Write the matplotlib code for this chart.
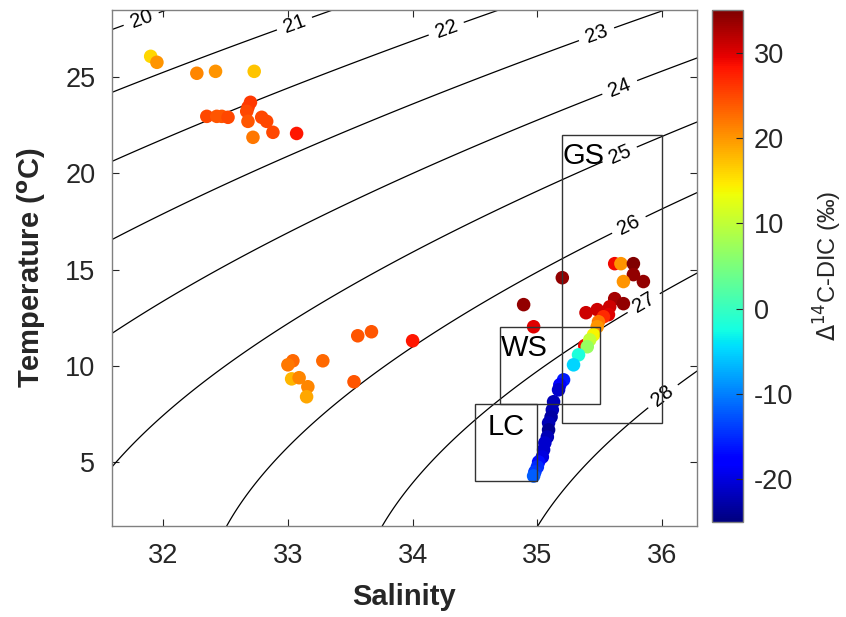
import matplotlib
matplotlib.use('Agg')
import matplotlib.pyplot as plt
import numpy as np
from matplotlib.patches import Rectangle

plt.rcParams['font.family'] = ['Liberation Sans', 'DejaVu Sans']
plt.rcParams['axes.unicode_minus'] = False

# surface samples: salinity, temperature (degC), D14C-DIC (permil)
sal_shelf = [31.90, 31.95, 32.27, 32.42, 32.73, 32.70, 32.68, 32.67, 32.35, 32.43,
             32.47, 32.52, 32.68, 32.79, 32.83, 32.88, 32.72, 33.07]
temp_shelf = [26.09, 25.78, 25.21, 25.31, 25.31, 23.70, 23.44, 23.23, 22.97, 22.97,
              22.97, 22.92, 22.71, 22.92, 22.71, 22.14, 21.88, 22.08]
d14c_shelf = [16, 20, 21, 20, 17, 26, 26, 25, 25, 24,
              24, 25, 24, 25, 25, 25, 22, 28]

# subsurface shelf / slope samples
sal_mid = [33.56, 33.67, 34.00, 33.04, 33.00, 33.28, 33.03, 33.09, 33.53, 33.16, 33.15]
temp_mid = [11.56, 11.77, 11.30, 10.26, 10.05, 10.26, 9.32, 9.38, 9.17, 8.91, 8.39]
d14c_mid = [24, 24, 28, 23, 22, 23, 18, 21, 24, 21, 19]

# offshore profile samples (Gulf Stream / Warm Slope / Labrador Current)
sal_off = [35.20, 34.89, 34.97, 35.62, 35.67, 35.77, 35.77, 35.85, 35.69, 35.62,
           35.69, 35.39, 35.48, 35.58, 35.57, 35.53, 35.38, 35.49, 35.48, 35.45,
           35.42, 35.40, 35.33, 35.29, 35.21, 35.18, 35.17, 35.13, 35.12, 35.11,
           35.09, 35.09, 35.08, 35.06, 35.05, 35.04, 35.01, 35.00, 34.98, 34.97]
temp_off = [14.58, 13.18, 12.03, 15.31, 15.31, 15.31, 14.74, 14.38, 14.38, 13.49,
            13.23, 12.76, 12.92, 13.07, 12.66, 12.55, 11.05, 12.29, 12.03, 11.61,
            11.35, 10.99, 10.57, 10.05, 9.27, 9.01, 8.75, 8.13, 7.71, 7.34,
            7.03, 6.67, 6.30, 5.99, 5.63, 5.26, 5.00, 4.74, 4.48, 4.27]
d14c_off = [34, 34, 30, 29, 20, 35, 34, 34, 20, 33,
            34, 31, 31, 31, 30, 27, 29, 22, 20, 14,
            10, 7, -2, -5, -16, -18, -21, -22, -22, -23,
            -22, -24, -22, -21, -21, -20, -17, -15, -14, -12]

# water mass boxes: name, S range, T range
box_names = ['GS', 'WS', 'LC']
box_sal = [(35.2, 36.0), (34.7, 35.5), (34.5, 35.0)]
box_temp = [(7, 22), (8, 12), (4, 8)]

sigma_levels = [20, 21, 22, 23, 24, 25, 26, 27, 28]


def sigma_t(S, T):
    # UNESCO 1981 equation of state at p = 0
    rho_w = (999.842594 + 6.793952e-2 * T - 9.095290e-3 * T**2 + 1.001685e-4 * T**3
             - 1.120083e-6 * T**4 + 6.536332e-9 * T**5)
    A = 8.24493e-1 - 4.0899e-3 * T + 7.6438e-5 * T**2 - 8.2467e-7 * T**3 + 5.3875e-9 * T**4
    B = -5.72466e-3 + 1.0227e-4 * T - 1.6546e-6 * T**2
    C = 4.8314e-4
    return rho_w + A * S + B * S**1.5 + C * S**2 - 1000.0


fig = plt.figure(figsize=(8.46, 6.17), dpi=100)
ax = fig.add_axes([0.1324, 0.1475, 0.6915, 0.8363])
cax = fig.add_axes([0.8416, 0.1540, 0.0366, 0.8298])

# density contours
sg, tg = np.meshgrid(np.linspace(31.4, 36.5, 300), np.linspace(0.5, 29.5, 300))
cs = ax.contour(sg, tg, sigma_t(sg, tg), levels=sigma_levels, colors='k', linewidths=0.9)
label_pos = [(31.82, 28.1), (33.06, 27.66), (34.28, 27.34), (35.48, 27.14), (35.66, 24.48),
             (35.66, 20.99), (35.74, 17.24), (35.86, 13.18), (36.01, 8.39)]
ax.clabel(cs, fmt='%d', fontsize=14.5, manual=label_pos, inline=True, inline_spacing=6)

sal_all = sal_shelf + sal_mid + sal_off
temp_all = temp_shelf + temp_mid + temp_off
d14c_all = d14c_shelf + d14c_mid + d14c_off
sc = ax.scatter(sal_all, temp_all, c=d14c_all, cmap='jet', vmin=-25, vmax=35,
                s=95, edgecolors='none', zorder=3)

for name, (s0, s1), (t0, t1) in zip(box_names, box_sal, box_temp):
    ax.add_patch(Rectangle((s0, t0), s1 - s0, t1 - t0, fill=False,
                           edgecolor='#333333', lw=1.0, zorder=4))
ax.text(35.205, 20.89, 'GS', fontsize=21, ha='left', va='center', zorder=5)
ax.text(34.71, 10.94, 'WS', fontsize=21, ha='left', va='center', zorder=5)
ax.text(34.605, 6.82, 'LC', fontsize=21, ha='left', va='center', zorder=5)

ax.set_xlim(31.59, 36.28)
ax.set_ylim(1.67, 28.5)
ax.set_xticks([32, 33, 34, 35, 36])
ax.set_yticks([5, 10, 15, 20, 25])
ax.tick_params(direction='in', top=True, right=True, labelsize=19.5, colors='#262626',
               length=5, width=0.8, pad=12)
for sp in ax.spines.values():
    sp.set_color('#808080')
    sp.set_linewidth(1.0)
ax.set_xlabel('Salinity', fontsize=21, fontweight='bold', color='#262626', labelpad=10)
ax.set_ylabel('Temperature ($^{\\mathbf{o}}$C)', fontsize=21, fontweight='bold',
              color='#262626', labelpad=12)

cb = fig.colorbar(sc, cax=cax)
cb.set_ticks([-20, -10, 0, 10, 20, 30])
cb.ax.tick_params(direction='in', labelsize=19.5, colors='#262626', length=5, width=0.8, pad=8)
cb.outline.set_edgecolor('#808080')
cb.outline.set_linewidth(1.0)
cb.set_label('$\\Delta^{14}$C-DIC (‰)', fontsize=17, color='#262626', labelpad=13)

fig.savefig('out.png', dpi=100, facecolor='white')
